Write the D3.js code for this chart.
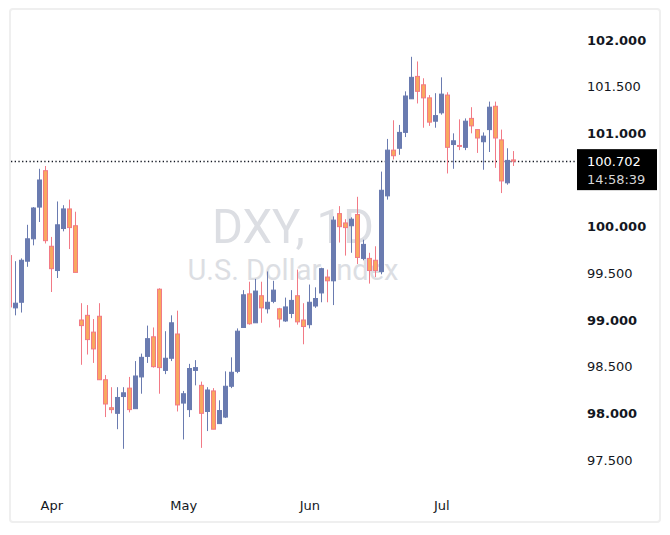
<!DOCTYPE html>
<html>
<head>
<meta charset="utf-8">
<script src="https://cdn.jsdelivr.net/npm/d3@7"></script>
<style>
  body { margin: 0; background: #fff; }
  svg { display: block; }
</style>
</head>
<body>
<svg width="670" height="535"></svg>
<script>
// daily candles (index 0 is cut by the left edge)
var opens  = [99.69, 99.13, 99.19, 99.63, 99.87, 100.21, 100.60, 99.79, 99.53, 99.98,
              100.19, 100.01, 99.00, 99.05, 98.87, 99.04, 98.36, 98.06, 98.00, 98.18,
              98.27, 98.05, 98.39, 98.61, 98.82, 99.33, 98.46, 98.59, 98.85, 98.11,
              98.04, 98.46, 98.30, 98.02, 98.24, 97.89, 97.96, 98.29, 98.45, 98.92,
              99.28, 98.97, 99.26, 99.12, 99.20, 99.12, 98.99, 99.07, 99.26, 99.00,
              98.95, 99.15, 99.29, 99.46, 99.42, 100.14, 100.04, 100.01, 100.13, 99.66,
              99.66, 99.64, 99.52, 100.33, 100.82, 100.84, 101.01, 101.37, 101.61, 101.52,
              101.38, 101.13, 101.22, 101.41, 100.88, 100.87, 100.85, 101.16, 101.04, 100.91,
              101.04, 101.29, 100.93, 100.47, 100.715];
var highs  = [99.72, 99.63, 99.66, 100.02, 100.21, 100.62, 100.65, 99.89, 100.27, 100.23,
              100.29, 100.16, 99.18, 99.16, 99.01, 99.18, 98.41, 98.28, 98.28, 98.28,
              98.39, 98.56, 98.64, 98.94, 98.92, 99.34, 98.88, 99.05, 99.10, 98.24,
              98.53, 98.57, 98.34, 98.28, 98.27, 98.14, 98.45, 98.60, 98.91, 99.32,
              99.41, 99.44, 99.41, 99.52, 99.42, 99.13, 99.24, 99.32, 99.54, 99.18,
              99.38, 99.35, 99.56, 99.54, 100.11, 100.22, 100.08, 100.10, 100.32, 99.86,
              99.72, 99.79, 100.59, 100.94, 101.14, 101.09, 101.45, 101.82, 101.77, 101.59,
              101.41, 101.43, 101.60, 101.44, 101.00, 101.15, 101.16, 101.28, 101.04, 101.01,
              101.34, 101.34, 101.04, 100.84, 100.81];
var lows   = [99.10, 99.05, 99.08, 99.57, 99.80, 100.05, 99.82, 99.30, 99.45, 99.95,
              99.76, 99.51, 98.52, 98.63, 98.54, 98.36, 97.96, 98.00, 97.83, 97.62,
              98.01, 98.05, 98.21, 98.54, 98.49, 98.21, 98.42, 98.56, 98.02, 97.72,
              97.96, 98.30, 97.63, 97.81, 97.83, 97.89, 97.95, 98.27, 98.43, 98.92,
              98.95, 98.97, 98.97, 99.07, 99.18, 98.92, 98.98, 99.02, 98.95, 98.74,
              98.91, 99.13, 99.19, 99.19, 99.16, 99.83, 99.69, 99.72, 99.60, 99.64,
              99.39, 99.46, 99.49, 100.29, 100.72, 100.77, 100.96, 101.37, 101.32, 101.06,
              101.08, 101.06, 101.20, 100.57, 100.62, 100.82, 100.82, 101.00, 100.79, 100.61,
              100.80, 100.63, 100.36, 100.45, 100.65];
var closes = [99.14, 99.18, 99.64, 99.87, 100.20, 100.50, 99.85, 99.55, 100.02, 100.19,
              99.99, 99.51, 98.94, 98.79, 98.69, 98.36, 98.10, 98.04, 98.17, 98.22,
              98.04, 98.40, 98.60, 98.80, 98.50, 98.49, 98.59, 98.97, 98.09, 98.21,
              98.48, 98.49, 98.00, 98.25, 97.83, 98.03, 98.29, 98.44, 98.88, 99.27,
              98.96, 99.31, 99.13, 99.19, 99.32, 99.01, 99.14, 99.21, 98.98, 98.93,
              99.19, 99.23, 99.55, 99.42, 100.07, 100.00, 99.99, 100.08, 99.67, 99.81,
              99.53, 99.53, 100.39, 100.82, 100.76, 101.01, 101.40, 101.60, 101.45, 101.38,
              101.12, 101.19, 101.42, 100.85, 100.92, 100.86, 101.13, 101.08, 100.95, 100.97,
              101.28, 100.95, 100.49, 100.71, 100.702];

// 100.500 sits under the last-price label, so it is left out
var priceTicks = [97.5, 98, 98.5, 99, 99.5, 100, 101, 101.5, 102];
var monthNames = ['Apr', 'May', 'Jun', 'Jul'];
var monthStart = [7, 29, 50, 72];   // candle index of first day in month
var lastPrice = 100.702;
var countdown = '14:58:39';

var upColor = '#6a7bb0', downFill = '#f9a85f', downLine = '#f27a86';

var svg = d3.select('svg');

var x = d3.scaleLinear().domain([0, 84]).range([9.3, 513.3]);
var y = d3.scaleLinear().domain([97.5, 102]).range([460, 40]);

var candles = d3.range(opens.length).map(function(i) {
  return { i: i, o: opens[i], h: highs[i], l: lows[i], c: closes[i] };
});

// frame
svg.append('rect')
  .attr('x', 10).attr('y', 9).attr('width', 650).attr('height', 513)
  .attr('rx', 3)
  .attr('fill', 'none').attr('stroke', '#efefef').attr('stroke-width', 2);

svg.append('clipPath').attr('id', 'plot')
  .append('rect').attr('x', 11).attr('y', 10).attr('width', 564).attr('height', 470);

// watermark
var wm = svg.append('g').attr('fill', '#dcdee3').attr('text-anchor', 'middle')
  .style('font-family', 'Roboto, sans-serif');
wm.append('text').attr('x', 293).attr('y', 243)
  .style('font-size', '49px')
  .attr('textLength', 162).attr('lengthAdjust', 'spacingAndGlyphs')
  .text('DXY, 1D');
wm.append('text').attr('x', 293).attr('y', 280)
  .style('font-size', '29px')
  .text('U.S. Dollar Index');

// last price line
svg.append('line')
  .attr('x1', 11).attr('x2', 575)
  .attr('y1', Math.round(y(lastPrice)) + 0.5).attr('y2', Math.round(y(lastPrice)) + 0.5)
  .attr('stroke', '#131722').attr('stroke-width', 1.3)
  .attr('stroke-dasharray', '1.3 2.4');

// candles
var g = svg.append('g').attr('clip-path', 'url(#plot)');
var c = g.selectAll('g.candle')
  .data(candles)
  .enter().append('g')
  .attr('class', 'candle');

c.append('line')
  .attr('x1', function(d) { return Math.round(x(d.i)) + 0.5; })
  .attr('x2', function(d) { return Math.round(x(d.i)) + 0.5; })
  .attr('y1', function(d) { return y(d.h); })
  .attr('y2', function(d) { return y(d.l); })
  .attr('stroke', function(d) { return d.c >= d.o ? upColor : downLine; })
  .attr('stroke-width', 1);

c.append('rect')
  .attr('x', function(d) { return Math.round(x(d.i)) - 1.5; })
  .attr('width', 4)
  .attr('y', function(d) { return y(Math.max(d.o, d.c)); })
  .attr('height', function(d) { return Math.max(0.5, y(Math.min(d.o, d.c)) - y(Math.max(d.o, d.c))); })
  .attr('fill', function(d) { return d.c >= d.o ? upColor : downFill; })
  .attr('stroke', function(d) { return d.c >= d.o ? upColor : downLine; })
  .attr('stroke-width', 1);

// price axis
var yAxis = svg.append('g')
  .attr('transform', 'translate(575,0)')
  .call(d3.axisRight(y).tickValues(priceTicks).tickSize(0).tickPadding(12)
    .tickFormat(function(d) { return d3.format('.3f')(d); }));
yAxis.select('.domain').remove();
yAxis.selectAll('text')
  .attr('fill', '#131722')
  .style('font-family', '"DejaVu Sans", sans-serif')
  .style('font-size', '13px')
  .style('font-weight', function(d) { return d % 1 === 0 ? 'bold' : 'normal'; });

// last price label
var lp = svg.append('g');
lp.append('rect')
  .attr('x', 577).attr('y', y(lastPrice) - 12).attr('width', 80).attr('height', 41)
  .attr('fill', '#000');
lp.append('text').attr('x', 587).attr('y', y(lastPrice)).attr('dy', '0.36em')
  .attr('fill', '#fff')
  .style('font-family', '"DejaVu Sans", sans-serif').style('font-size', '13px')
  .text(d3.format('.3f')(lastPrice));
lp.append('text').attr('x', 587).attr('y', y(lastPrice) + 18).attr('dy', '0.36em')
  .attr('fill', '#d6d6d6')
  .style('font-family', '"DejaVu Sans", sans-serif').style('font-size', '13px')
  .text(countdown);

// time axis
var xAxis = svg.append('g')
  .attr('transform', 'translate(0,498)')
  .call(d3.axisBottom(x).tickValues(monthStart).tickSize(0).tickPadding(3)
    .tickFormat(function(d, k) { return monthNames[k]; }));
xAxis.select('.domain').remove();
xAxis.selectAll('text')
  .attr('fill', '#131722')
  .style('font-family', '"DejaVu Sans", sans-serif')
  .style('font-size', '13px');
</script>
</body>
</html>
